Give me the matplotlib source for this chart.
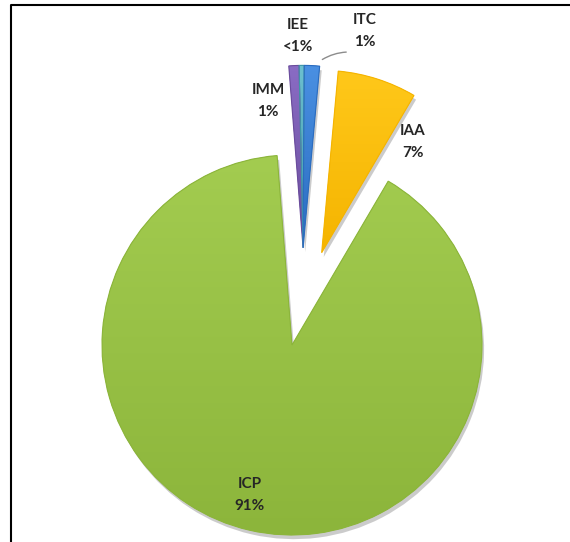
import numpy as np
import matplotlib.pyplot as plt
import matplotlib.patheffects as pe
from matplotlib.patches import Wedge
from matplotlib.lines import Line2D
from matplotlib.colors import LinearSegmentedColormap

# data, clockwise from the top
labels = ['IMM', 'IEE', 'ITC', 'IAA', 'ICP']
shares = [0.9, 0.45, 1.35, 7.0, 90.3]
pct_text = ['1%', '<1%', '1%', '7%', '91%']

explode = [0.51, 0.51, 0.51, 0.51, 0.0]
col_top = ['#8a6cc4', '#6cc0cf', '#4a90e2', '#ffc81a', '#a3cc50']
col_bot = ['#6a4c9c', '#3f97a8', '#2a6cc0', '#f5b400', '#8cb53b']

fig = plt.figure(figsize=(5.7, 5.42), dpi=100)
ax = fig.add_axes([0, 0, 1, 1])

# pixel -> data helper (pie centre at 292,345, radius 190 px)
cx, cy, R = 292, 345, 190
def px(x, y):
    return ((x - cx) / R, (cy - y) / R)

wedges, _ = ax.pie(shares, explode=explode, colors=col_bot, startangle=94.5,
                   counterclock=False, radius=1.0,
                   wedgeprops=dict(linewidth=0))

# the three tiny slices are pulled out together, as one group
grp_ang = np.deg2rad(83.5)
grp_center = (0.515 * np.cos(grp_ang), 0.515 * np.sin(grp_ang))

for i, w in enumerate(wedges):
    if explode[i] > 0:
        w.set_radius(0.96)
    if i < 3:
        w.set_center(grp_center)
    w.set_zorder(1)
    w.set_path_effects([pe.SimplePatchShadow(offset=(1.5, -3), alpha=0.3, shadow_rgbFace='#555555'),
                        pe.Normal()])
    # vertical gradient clipped to the wedge
    ext = w.get_path().get_extents(w.get_patch_transform())
    cmap = LinearSegmentedColormap.from_list('g%d' % i, [col_bot[i], col_top[i]])
    grad = np.linspace(0, 1, 256).reshape(-1, 1)
    im = ax.imshow(grad, cmap=cmap, origin='lower', aspect='auto',
                   extent=[ext.x0, ext.x1, ext.y0, ext.y1], zorder=2)
    im.set_clip_path(w)
    ax.add_patch(Wedge(w.center, w.r, w.theta1, w.theta2, facecolor='none',
                       edgecolor=col_bot[i], linewidth=0.8, zorder=3))

# labels
txt = dict(ha='center', va='center', fontsize=11, fontweight='bold',
           color='#262626', family=['Lato', 'DejaVu Sans'], zorder=5)
label_pos = {'IMM': (268, 90), 'IEE': (298, 25), 'ITC': (365, 20),
             'IAA': (413, 131), 'ICP': (250, 484)}
for name, pct in zip(labels, pct_text):
    x, y = label_pos[name]
    ax.text(*px(x, y), name, **txt)
    ax.text(*px(x, y + 22), pct, **txt)

# leader line for ITC
ax.annotate('', xy=px(320, 61), xytext=px(349, 52),
            arrowprops=dict(arrowstyle='-', color='#8c8c8c', lw=1,
                            connectionstyle='arc3,rad=0.15'), zorder=4)

ax.set_xlim(px(0, 0)[0], px(570, 0)[0])
ax.set_ylim(px(0, 542)[1], px(0, 0)[1])
ax.set_aspect('auto')
ax.axis('off')

# frame (top and left only)
fig.add_artist(Line2D([11 / 570, 11 / 570, 1.0], [0, 1 - 5 / 542, 1 - 5 / 542],
                      transform=fig.transFigure, color='black', lw=1.5))

fig.savefig('out.png', dpi=100)
